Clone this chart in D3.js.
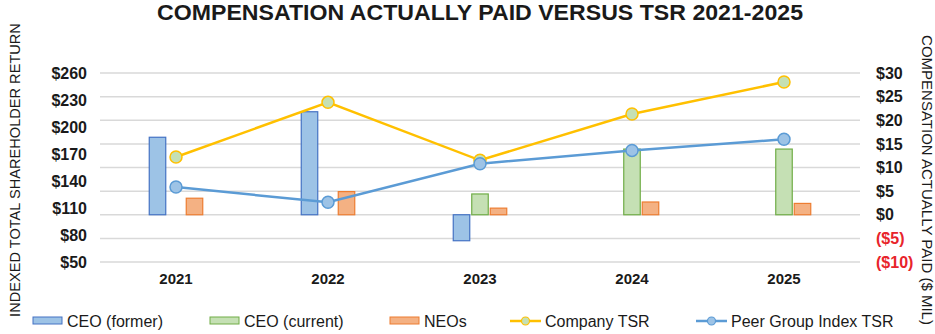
<!DOCTYPE html>
<html>
<head>
<meta charset="utf-8">
<script src="https://cdn.jsdelivr.net/npm/d3@7"></script>
<style>
  body { margin: 0; background: #fff; }
  svg text { font-family: "Liberation Sans", Arial, sans-serif; }
</style>
</head>
<body>
<div id="chart"></div>
<script>
// chart data
const years = ["2021", "2022", "2023", "2024", "2025"]
const ceoFormer = [16.4, 21.8, -5.5, null, null]
const ceoCurrent = [null, null, 4.4, 13.9, 13.9]
const neos = [3.5, 4.9, 1.4, 2.7, 2.4]
const companyTsr = [166.7, 227.4, 163, 214.4, 250]
const peerTsr = [133.3, 116.3, 159.2, 174, 186.3]
const leftTicks = [50, 80, 110, 140, 170, 200, 230, 260]
const rightTicks = [-10, -5, 0, 5, 10, 15, 20, 25, 30]

const width = 935, height = 334
const plotLeft = 100, plotRight = 860, plotTop = 73, plotBottom = 262

const svg = d3.select("#chart").append("svg")
  .attr("width", width)
  .attr("height", height)

const x = d3.scaleBand().domain(years).range([plotLeft, plotRight])
const yL = d3.scaleLinear().domain([50, 260]).range([plotBottom, plotTop])
const yR = d3.scaleLinear().domain([-10, 30]).range([plotBottom, plotTop])

// title
svg.append("text")
  .attr("x", 480).attr("y", 20)
  .attr("text-anchor", "middle")
  .attr("font-size", 21.5).attr("font-weight", "bold")
  .attr("fill", "#1a1a1a")
  .attr("textLength", 646).attr("lengthAdjust", "spacingAndGlyphs")
  .text("COMPENSATION ACTUALLY PAID VERSUS TSR 2021-2025")

// gridlines follow the right (dollar) axis
svg.append("g").selectAll("line").data(rightTicks).join("line")
  .attr("x1", plotLeft).attr("x2", plotRight)
  .attr("y1", d => yR(d)).attr("y2", d => yR(d))
  .attr("stroke", "#d9d9d9").attr("stroke-width", 1.5)

// left axis
const leftAxis = svg.append("g")
  .attr("transform", "translate(" + (plotLeft - 10) + ",0)")
  .call(d3.axisLeft(yL).tickValues(leftTicks).tickSize(0).tickFormat(d => "$" + d))
leftAxis.select(".domain").remove()
leftAxis.selectAll("text")
  .attr("font-size", 16).attr("font-weight", "bold").attr("fill", "#1a1a1a")
  .attr("font-family", "Liberation Sans, Arial, sans-serif")

// right axis
const rightAxis = svg.append("g")
  .attr("transform", "translate(" + (plotRight + 13) + ",0)")
  .call(d3.axisRight(yR).tickValues(rightTicks).tickSize(0)
    .tickFormat(d => d < 0 ? "($" + (-d) + ")" : "$" + d))
rightAxis.select(".domain").remove()
rightAxis.selectAll("text")
  .attr("font-size", 16).attr("font-weight", "bold")
  .attr("fill", d => d < 0 ? "#e8242b" : "#1a1a1a")
  .attr("font-family", "Liberation Sans, Arial, sans-serif")

// x axis labels
const xAxis = svg.append("g")
  .attr("transform", "translate(0," + (plotBottom + 8) + ")")
  .call(d3.axisBottom(x).tickSize(0))
xAxis.select(".domain").remove()
xAxis.selectAll("text")
  .attr("font-size", 15).attr("font-weight", "bold").attr("fill", "#1a1a1a")
  .attr("font-family", "Liberation Sans, Arial, sans-serif")

// axis titles
svg.append("text")
  .attr("transform", "translate(20,170) rotate(-90)")
  .attr("text-anchor", "middle")
  .attr("font-size", 14.6).attr("fill", "#1a1a1a")
  .text("INDEXED TOTAL SHAREHOLDER RETURN")
svg.append("text")
  .attr("transform", "translate(922,180) rotate(90)")
  .attr("text-anchor", "middle")
  .attr("font-size", 15).attr("fill", "#1a1a1a")
  .text("COMPENSATION ACTUALLY PAID ($ MIL)")

// bars
const barW = 16.5, barGap = 2
const series = [
  { name: "CEO (former)", values: ceoFormer, fill: "#9dc3e6", stroke: "#4472c4", slot: -1 },
  { name: "CEO (current)", values: ceoCurrent, fill: "#c5e0b4", stroke: "#70ad47", slot: 0 },
  { name: "NEOs", values: neos, fill: "#f4b183", stroke: "#ed7d31", slot: 1 }
]
series.forEach(s => {
  svg.append("g").selectAll("rect")
    .data(years.map((yr, i) => ({ yr, v: s.values[i] })).filter(d => d.v !== null))
    .join("rect")
    .attr("x", d => x(d.yr) + x.bandwidth() / 2 + s.slot * (barW + barGap) - barW / 2)
    .attr("y", d => Math.min(yR(d.v), yR(0)))
    .attr("width", barW)
    .attr("height", d => Math.abs(yR(d.v) - yR(0)))
    .attr("fill", s.fill).attr("stroke", s.stroke).attr("stroke-width", 1.2)
})

// lines
const lines = [
  { name: "Company TSR", values: companyTsr, color: "#ffc000", marker: "#c5e0b4" },
  { name: "Peer Group Index TSR", values: peerTsr, color: "#5b9bd5", marker: "#9dc3e6" }
]
const cx = yr => x(yr) + x.bandwidth() / 2
lines.forEach(l => {
  const pts = years.map((yr, i) => [cx(yr), yL(l.values[i])])
  svg.append("path")
    .attr("d", d3.line()(pts))
    .attr("fill", "none").attr("stroke", l.color).attr("stroke-width", 2.5)
  svg.append("g").selectAll("circle").data(pts).join("circle")
    .attr("cx", d => d[0]).attr("cy", d => d[1]).attr("r", 6)
    .attr("fill", l.marker).attr("stroke", l.color).attr("stroke-width", 1.5)
})

// legend
const legY = 321
const legend = svg.append("g")
const barLegendX = [33, 210, 390]
series.forEach((s, i) => {
  legend.append("rect")
    .attr("x", barLegendX[i]).attr("y", legY - 4).attr("width", 29).attr("height", 7)
    .attr("fill", s.fill).attr("stroke", s.stroke).attr("stroke-width", 1)
  legend.append("text")
    .attr("x", barLegendX[i] + 34).attr("y", legY + 6)
    .attr("font-size", 16).attr("fill", "#1a1a1a")
    .text(s.name)
})
const lineLegendX = [510, 696]
lines.forEach((l, i) => {
  legend.append("line")
    .attr("x1", lineLegendX[i]).attr("x2", lineLegendX[i] + 31)
    .attr("y1", legY).attr("y2", legY)
    .attr("stroke", l.color).attr("stroke-width", 2.5)
  legend.append("circle")
    .attr("cx", lineLegendX[i] + 15.5).attr("cy", legY).attr("r", 4)
    .attr("fill", l.marker).attr("stroke", l.color).attr("stroke-width", 1.2)
  legend.append("text")
    .attr("x", lineLegendX[i] + 35).attr("y", legY + 6)
    .attr("font-size", 16).attr("fill", "#1a1a1a")
    .text(l.name)
})
</script>
</body>
</html>
